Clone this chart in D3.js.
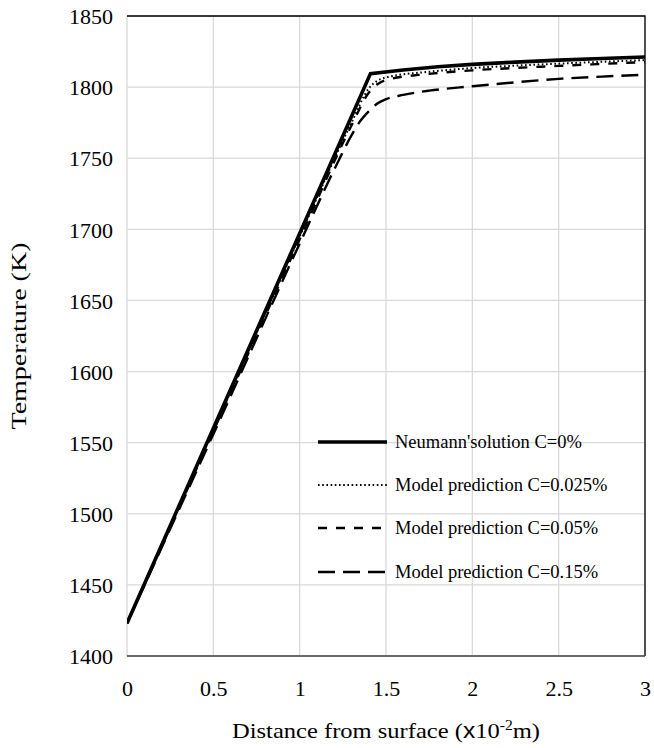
<!DOCTYPE html>
<html><head><meta charset="utf-8">
<script src="https://cdn.jsdelivr.net/npm/d3@7/dist/d3.min.js"></script>
<style>
html,body{margin:0;padding:0;background:#fff;}
svg{display:block;}
text{font-family:"Liberation Serif","Times New Roman",serif;fill:#000;}
</style></head>
<body>
<script>
// ---- data ----
const xTicks = [0, 0.5, 1, 1.5, 2, 2.5, 3];
const yTicks = [1400, 1450, 1500, 1550, 1600, 1650, 1700, 1750, 1800, 1850];

const neumannX = [0, 1.41, 1.6, 1.8, 2.0, 2.25, 2.5, 2.75, 3.0];
const neumannT = [1423, 1809.5, 1812, 1814.3, 1816, 1817.6, 1819, 1820.1, 1821.2];

const c025X = [0, 0.5, 1.0, 1.3, 1.4, 1.45, 1.5, 1.75, 2.0, 2.25, 2.5, 2.75, 3.0];
const c025T = [1423, 1559, 1695, 1775, 1799, 1804.5, 1806.8, 1810.8, 1813.4, 1815.1, 1816.5, 1817.8, 1819];

const c05X = [0, 0.5, 1.0, 1.3, 1.4, 1.45, 1.5, 1.75, 2.0, 2.25, 2.5, 2.75, 3.0];
const c05T = [1423, 1558, 1693, 1773, 1796, 1802, 1805, 1809.3, 1811.8, 1813.5, 1814.9, 1816.3, 1817.6];

const c15X = [0, 0.5, 1.0, 1.2, 1.3, 1.35, 1.4, 1.45, 1.5, 1.6, 1.75, 2.0, 2.25, 2.5, 2.75, 3.0];
const c15T = [1423, 1556, 1690, 1742, 1766, 1776, 1783, 1788.5, 1791.5, 1794.5, 1797.5, 1800.6, 1803.4, 1805.8, 1807.4, 1808.7];

const seriesNames = ["Neumann'solution C=0%", "Model prediction C=0.025%", "Model prediction C=0.05%", "Model prediction C=0.15%"];

// ---- layout ----
const W = 654, H = 748;
const L = 127, R = 645, T = 16, B = 656;
const SERIF = "Liberation Serif, Times New Roman, serif";

const svg = d3.select("body").append("svg").attr("width", W).attr("height", H);
const x = d3.scaleLinear().domain([0, 3]).range([L, R]);
const y = d3.scaleLinear().domain([1400, 1850]).range([B, T]);

// gridlines
svg.append("g").selectAll("line.h").data(yTicks).join("line")
  .attr("x1", L).attr("x2", R).attr("y1", d => y(d)).attr("y2", d => y(d))
  .attr("stroke", "#d9d9d9").attr("stroke-width", 1.3);
svg.append("g").selectAll("line.v").data(xTicks).join("line")
  .attr("y1", T).attr("y2", B).attr("x1", d => x(d)).attr("x2", d => x(d))
  .attr("stroke", "#d9d9d9").attr("stroke-width", 1.3);

// border top/right
svg.append("path").attr("d", `M${L},${T}H${R}V${B}`).attr("fill", "none").attr("stroke", "#000").attr("stroke-width", 1.3);
// bottom axis
svg.append("line").attr("x1", L).attr("x2", R).attr("y1", B).attr("y2", B).attr("stroke", "#404040").attr("stroke-width", 1.3);

// tick labels
const xAxis = d3.axisBottom(x).tickValues(xTicks).tickSize(0).tickPadding(0).tickFormat(d3.format("~g"));
const gx = svg.append("g").attr("transform", `translate(0,${B})`).call(xAxis);
gx.select(".domain").remove();
gx.attr("font-family", SERIF).attr("font-size", 22);
gx.selectAll("text").attr("font-family", SERIF).attr("font-size", 22).attr("dy", null).attr("y", 40)
  .attr("fill", "#000");

const yAxis = d3.axisLeft(y).tickValues(yTicks).tickSize(0).tickPadding(0).tickFormat(d3.format("d"));
const gy = svg.append("g").attr("transform", `translate(${L - 14},0)`).call(yAxis);
gy.select(".domain").remove();
gy.attr("font-family", SERIF).attr("font-size", 22);
gy.selectAll("text").attr("font-family", SERIF).attr("font-size", 22).attr("dy", "0.35em")
  .attr("fill", "#000");

// axis titles
svg.append("text").attr("x", 386).attr("y", 738).attr("text-anchor", "middle").attr("font-size", 22)
  .attr("textLength", 308).attr("lengthAdjust", "spacingAndGlyphs")
  .call(t => {
    t.append("tspan").text("Distance from surface (");
    t.append("tspan").attr("font-family", "Liberation Sans").text("x");
    t.append("tspan").text("10");
    t.append("tspan").attr("font-size", 14).attr("dy", -8).text("-2");
    t.append("tspan").attr("dy", 8).text("m)");
  });
svg.append("text").attr("transform", `translate(26,336) rotate(-90)`).attr("text-anchor", "middle")
  .attr("font-size", 20).attr("textLength", 187).attr("lengthAdjust", "spacingAndGlyphs")
  .text("Temperature  (K)");

// series
const styles = [
  {w: 3.6, dash: null},
  {w: 2.0, dash: "1.6,2.6"},
  {w: 2.4, dash: "9,9"},
  {w: 2.4, dash: "17,8"}
];
const series = [
  {xs: neumannX, ts: neumannT, curve: d3.curveLinear},
  {xs: c025X, ts: c025T, curve: d3.curveMonotoneX},
  {xs: c05X, ts: c05T, curve: d3.curveMonotoneX},
  {xs: c15X, ts: c15T, curve: d3.curveMonotoneX}
];
svg.append("clipPath").attr("id", "pc").append("rect")
  .attr("x", L).attr("y", T).attr("width", R - L).attr("height", B - T);
series.slice().reverse().forEach((s, ri) => {
  const i = series.length - 1 - ri;
  const pts = s.xs.map((v, k) => [v, s.ts[k]]);
  const line = d3.line().x(d => x(d[0])).y(d => y(d[1])).curve(s.curve);
  svg.append("path").datum(pts).attr("d", line).attr("fill", "none")
    .attr("stroke", "#000").attr("stroke-width", styles[i].w)
    .attr("stroke-dasharray", styles[i].dash)
    .attr("clip-path", "url(#pc)");
});

// legend
const legRows = [442, 485, 528, 572];
const lg = svg.append("g");
seriesNames.forEach((name, i) => {
  lg.append("line").attr("x1", 318).attr("x2", 387).attr("y1", legRows[i]).attr("y2", legRows[i])
    .attr("stroke", "#000").attr("stroke-width", styles[i].w).attr("stroke-dasharray", styles[i].dash);
  lg.append("text").attr("x", 395).attr("y", legRows[i]).attr("dy", "0.35em").attr("font-size", 18.5).text(name);
});
</script>
</body></html>
